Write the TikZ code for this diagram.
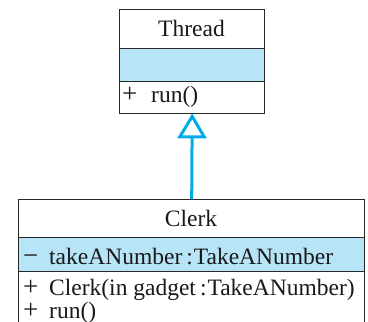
\documentclass[tikz,border=0pt]{standalone}
\usepackage{fontspec}
\setmainfont{Liberation Serif}
\usetikzlibrary{arrows.meta}
\definecolor{umlfill}{RGB}{184,228,248}
\definecolor{umlcyan}{RGB}{0,172,232}
\definecolor{umlline}{RGB}{40,40,40}
\newcommand{\umlsym}[1]{\makebox[26pt][l]{\fontsize{27}{23}\selectfont\raisebox{-0.5pt}{#1}}}
\begin{document}
\begin{tikzpicture}[x=1pt,y=-1pt,
  comp/.style={draw=umlline,line width=1.4pt,inner sep=0pt,minimum width=#1,anchor=north west},
  txt/.style={inner sep=0pt,anchor=base,text=black!90,font=\fontsize{23.5}{23}\selectfont},
  ltxt/.style={txt,anchor=base west},
  inherit/.style={draw=umlcyan,line width=3pt,-{Triangle[open,fill=white,length=25pt,width=29pt,line width=3pt]}}]
\useasboundingbox (0,0) rectangle (368,322);
\begin{scope}
\clip (0,0) rectangle (368,322);
% Thread
\node[comp=145pt,minimum height=39pt] (tname) at (119,9) {};
\node[comp=145pt,minimum height=33pt,fill=umlfill] (tattr) at (119,48) {};
\node[comp=145pt,minimum height=32pt] (tmeth) at (119,81) {};
\node[txt] (tnamet) at (191.5,36) {Thread};
\node[ltxt] (tmetht) at (122,102) {\umlsym{+}\hspace{3pt}run()};
% Clerk
\node[comp=346pt,minimum height=38pt] (cname) at (18,199) {};
\node[comp=346pt,minimum height=34pt,fill=umlfill] (cattr) at (18,237) {};
\node[comp=346pt,minimum height=70pt] (cmeth) at (18,271) {};
\node[txt] (cnamet) at (191,226) {Clerk};
\node[ltxt] (cattrt) at (23,264) {\umlsym{−}takeANumber\hspace{4pt}:\hspace{1pt}TakeANumber};
\node[ltxt,align=left] (cmetht) at (23,318) {\umlsym{+}Clerk(in gadget\hspace{4pt}:\hspace{1pt}TakeANumber)\\\umlsym{+}run()};
% inheritance
\draw[inherit] (cname.north) -- ([yshift=1pt]tmeth.south);
\end{scope}
\end{tikzpicture}
\end{document}
